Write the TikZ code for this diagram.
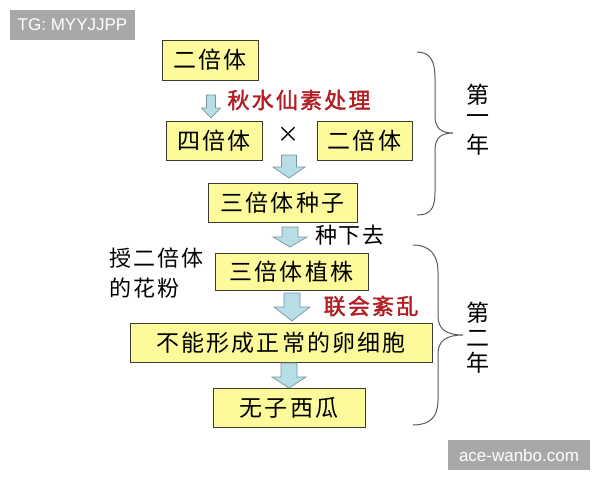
\documentclass[tikz,border=0pt]{standalone}
\usepackage{fontspec}
\setmainfont{Liberation Sans}
\newfontfamily\cjk{Noto Sans CJK SC}
\newfontfamily\cjksp[LetterSpace=9]{Noto Sans CJK SC}
\newfontfamily\cjkbold[FakeBold=1.8,LetterSpace=10]{Noto Sans CJK SC}
\newfontfamily\wmfont{Liberation Sans}
\definecolor{boxfill}{RGB}{252,250,155}
\definecolor{boxline}{RGB}{60,60,50}
\definecolor{arrfill}{RGB}{183,221,230}
\definecolor{arrline}{RGB}{120,150,160}
\definecolor{redtxt}{RGB}{178,30,35}
\definecolor{bracecol}{RGB}{90,90,90}
\definecolor{wmgray}{RGB}{168,168,168}
\newcommand\fatarrow[7]{% x, ytop, yhead, ytip, shafthalf, headhalf
  \draw[fatarrowstyle] (#1-#5,#2) -- (#1+#5,#2) -- (#1+#5,#3) -- (#1+#6,#3) -- (#1,#4) -- (#1-#6,#3) -- (#1-#5,#3) -- cycle;}
\begin{document}
\begin{tikzpicture}[x=1pt,y=1pt,
  stagebox/.style={draw=boxline, fill=boxfill, line width=0.9pt, inner sep=0pt, font=\cjksp\fontsize{23}{26}\selectfont},
  fatarrowstyle/.style={draw=arrline, fill=arrfill, line width=0.7pt, line join=miter},
  redlabel/.style={text=redtxt, font=\cjkbold\fontsize{22}{24}\selectfont, inner sep=0pt},
  plainlabel/.style={text=black, font=\cjksp\fontsize{22}{25}\selectfont, inner sep=0pt},
  yearlabel/.style={text=black, font=\cjk\fontsize{23}{25}\selectfont, inner sep=0pt},
  bracestyle/.style={draw=bracecol, line width=1pt},
  wmbox/.style={fill=wmgray, text=white, font=\wmfont\fontsize{17}{20}\selectfont, inner sep=0pt}
]
\useasboundingbox (0,0) rectangle (600,-480);
\fill[white] (0,0) rectangle (600,-480);

% watermarks
\node[wmbox, minimum width=125pt, minimum height=30pt] (wm1) at (72.5,-25) {TG: MYYJJPP};
\node[wmbox, minimum width=142pt, minimum height=30pt] (wm2) at (519,-455) {ace-wanbo.com};

% boxes
\node[stagebox, minimum width=96pt, minimum height=40pt] (b1) at (210,-60) {二倍体};
\node[stagebox, minimum width=96pt, minimum height=39pt] (b2) at (214,-141) {四倍体};
\node[stagebox, minimum width=95pt, minimum height=39pt] (b3) at (364.5,-140.5) {二倍体};
\node[stagebox, minimum width=149pt, minimum height=39pt] (b4) at (282.5,-202.5) {三倍体种子};
\node[stagebox, minimum width=153pt, minimum height=37pt] (b5) at (291.5,-271.5) {三倍体植株};
\node[stagebox, minimum width=302pt, minimum height=39pt] (b6) at (281,-342.5) {不能形成正常的卵细胞};
\node[stagebox, minimum width=152pt, minimum height=39pt] (b7) at (289,-407.5) {无子西瓜};

% block arrows
\fatarrow{211}{-95}{-108}{-118}{4.5}{9.5}{}
\fatarrow{289}{-155}{-167}{-178}{7.5}{16}{}
\fatarrow{290}{-227}{-237}{-247}{8}{17}{}
\fatarrow{292}{-293}{-307}{-321}{8}{18}{}
\fatarrow{289}{-363}{-377}{-388}{8}{17}{}

% labels
\node[redlabel] (l1) at (299,-100) {秋水仙素处理};
\node[text=black, font=\cjk\fontsize{22}{24}\selectfont, inner sep=0pt] (cross) at (288.5,-135) {×};
\node[plainlabel] (l2) at (350,-235) {种下去};
\node[plainlabel, anchor=west] (l3) at (109,-258) {授二倍体};
\node[plainlabel, anchor=west] (l4) at (109,-288) {的花粉};
\node[redlabel] (l5) at (371,-306) {联会紊乱};

% year labels
\node[yearlabel] (y11) at (478,-95) {第};
\node[yearlabel] (y12) at (478,-120) {一};
\node[yearlabel] (y13) at (478,-145) {年};
\node[yearlabel] (y21) at (478,-313) {第};
\node[yearlabel] (y22) at (478,-338) {二};
\node[yearlabel] (y23) at (478,-363) {年};

% braces
\draw[bracestyle] (417,-52) .. controls (431,-52) and (435,-62) .. (435,-78)
  -- (435,-116) .. controls (435,-128) and (441,-133) .. (453,-133)
  .. controls (441,-133) and (435,-138) .. (435,-150)
  -- (435,-192) .. controls (435,-208) and (431,-215) .. (417,-215);
\draw[bracestyle] (413,-245) .. controls (430,-245) and (438,-255) .. (438,-272)
  -- (438,-316) .. controls (438,-329) and (446,-335) .. (463,-335)
  .. controls (446,-335) and (438,-341) .. (438,-354)
  -- (438,-400) .. controls (438,-417) and (430,-425) .. (413,-425);
\end{tikzpicture}
\end{document}
